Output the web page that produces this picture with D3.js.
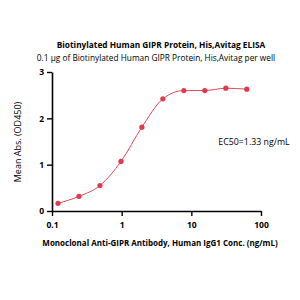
<!DOCTYPE html>
<html>
<head>
<meta charset="utf-8">
<script src="https://cdn.jsdelivr.net/npm/d3@7"></script>
<style>
  body { margin: 0; background: #fff; }
  svg { display: block; font-family: "Open Sans", "Liberation Sans", sans-serif; }
</style>
</head>
<body>
<svg width="300" height="300"></svg>
<script>
// data
const conc = [0.122, 0.244, 0.488, 0.977, 1.95, 3.9, 7.8, 15.6, 31.25, 62.5];
const absorb = [0.166, 0.316, 0.55, 1.07, 1.81, 2.42, 2.60, 2.60, 2.65, 2.63];
const xTicks = [0.1, 1, 10, 100];
const yTicks = [0, 1, 2, 3];

const title = "Biotinylated Human GIPR Protein, His,Avitag ELISA";
const subtitle = "0.1 \u00b5g of Biotinylated Human GIPR Protein, His,Avitag per well";
const xLabel = "Monoclonal Anti-GIPR Antibody, Human IgG1 Conc. (ng/mL)";
const yLabel = "Mean Abs. (OD450)";
const ec50Text = "EC50=1.33 ng/mL";

const margin = { top: 72, left: 52 },
  width = 209,
  height = 139;

const svg = d3.select("svg");
const g = svg.append("g")
  .attr("transform", "translate(" + margin.left + "," + margin.top + ")");

var x = d3.scaleLog().domain([0.1, 100]).range([0, width]);
var y = d3.scaleLinear().domain([0, 3]).range([height, 0]);

// titles
svg.append("text")
  .attr("x", 161).attr("y", 48)
  .attr("text-anchor", "middle")
  .style("font-size", "8.3px").style("font-weight", "bold")
  .text(title);
svg.append("text")
  .attr("x", 156).attr("y", 61)
  .attr("text-anchor", "middle")
  .style("font-size", "8.3px")
  .text(subtitle);

// x axis
var xa = g.append("g")
  .attr("transform", "translate(0," + height + ")")
  .call(d3.axisBottom(x).tickValues(xTicks).tickFormat(d3.format("~g")).tickSizeInner(5).tickSizeOuter(0));
// y axis
var ya = g.append("g")
  .call(d3.axisLeft(y).tickValues(yTicks).tickFormat(d3.format("d")).tickSizeInner(5).tickSizeOuter(0));

[xa, ya].forEach(function (a) {
  a.select(".domain").attr("stroke", "#000").attr("stroke-width", 1.6);
  a.selectAll(".tick line").attr("stroke", "#000").attr("stroke-width", 1.4);
  a.selectAll(".tick text")
    .style("font-family", "'Open Sans', sans-serif")
    .style("font-size", "8.5px").style("font-weight", "bold").attr("fill", "#000");
});
xa.selectAll(".tick text").attr("dy", "1.1em");

// axis labels
svg.append("text")
  .attr("x", 160).attr("y", 246)
  .attr("text-anchor", "middle")
  .style("font-size", "8px").style("font-weight", "bold")
  .text(xLabel);
svg.append("text")
  .attr("transform", "translate(21,142) rotate(-90)")
  .attr("text-anchor", "middle")
  .style("font-size", "9px")
  .text(yLabel);

// curve
var pts = conc.map(function (c, i) { return [c, absorb[i]]; });
var line = d3.line()
  .x(function (d) { return x(d[0]); })
  .y(function (d) { return y(d[1]); })
  .curve(d3.curveMonotoneX);
g.append("path")
  .datum(pts)
  .attr("fill", "none")
  .attr("stroke", "#e0485a")
  .attr("stroke-width", 1)
  .attr("d", line);

// points
g.selectAll("circle")
  .data(pts)
  .enter()
  .append("circle")
  .attr("cx", function (d) { return x(d[0]); })
  .attr("cy", function (d) { return y(d[1]); })
  .attr("r", 2.6)
  .attr("fill", "#e23a4c");

// EC50 label
svg.append("text")
  .attr("x", 254).attr("y", 145)
  .attr("text-anchor", "middle")
  .style("font-size", "8.8px")
  .text(ec50Text);
</script>
</body>
</html>
